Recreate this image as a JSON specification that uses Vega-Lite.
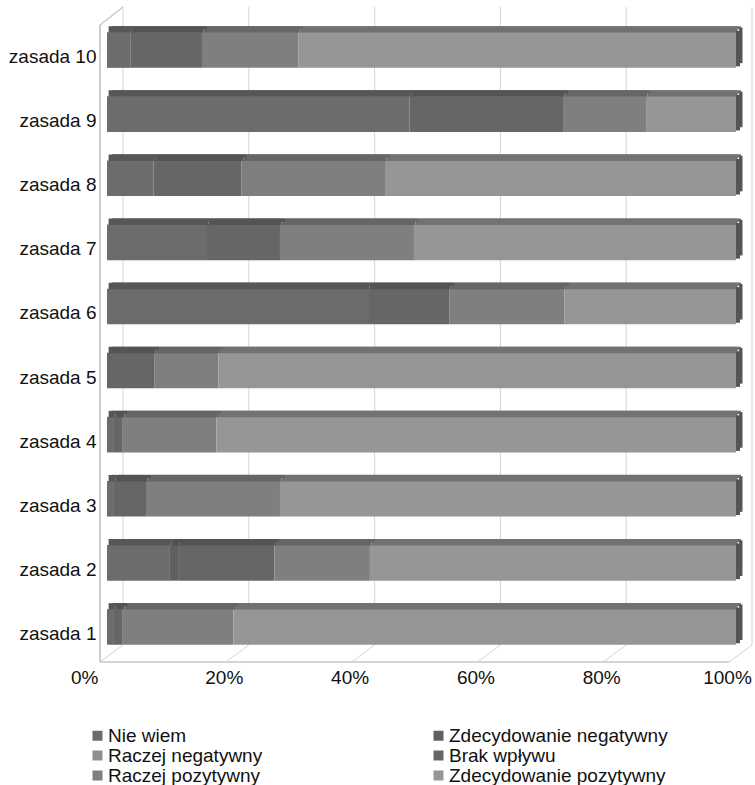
{
  "$schema": "https://vega.github.io/schema/vega-lite/v6.json",
  "autosize": {"type": "none"},
  "width": 629,
  "height": 641,
  "padding": {"left": 107, "top": 18, "right": 19, "bottom": 126},
  "background": "white",
  "config": {
    "font": "Liberation Sans",
    "view": {"stroke": null},
    "axis": {"labelFont": "Liberation Sans", "labelFontSize": 19, "labelColor": "#111111"},
    "legend": {"labelFont": "Liberation Sans", "labelFontSize": 19, "labelColor": "#111111"}
  },
  "datasets": {
    "odpowiedzi": [
      {"zasada": "zasada 1", "k": "Nie wiem", "v": 1.1},
      {"zasada": "zasada 1", "k": "Brak wpływu", "v": 1.4},
      {"zasada": "zasada 1", "k": "Raczej pozytywny", "v": 17.6},
      {"zasada": "zasada 1", "k": "Zdecydowanie pozytywny", "v": 79.9},
      {"zasada": "zasada 2", "k": "Nie wiem", "v": 10.0},
      {"zasada": "zasada 2", "k": "Zdecydowanie negatywny", "v": 1.3},
      {"zasada": "zasada 2", "k": "Brak wpływu", "v": 15.3},
      {"zasada": "zasada 2", "k": "Raczej pozytywny", "v": 15.2},
      {"zasada": "zasada 2", "k": "Zdecydowanie pozytywny", "v": 58.2},
      {"zasada": "zasada 3", "k": "Nie wiem", "v": 1.1},
      {"zasada": "zasada 3", "k": "Brak wpływu", "v": 5.1},
      {"zasada": "zasada 3", "k": "Raczej pozytywny", "v": 21.3},
      {"zasada": "zasada 3", "k": "Zdecydowanie pozytywny", "v": 72.5},
      {"zasada": "zasada 4", "k": "Nie wiem", "v": 1.1},
      {"zasada": "zasada 4", "k": "Brak wpływu", "v": 1.4},
      {"zasada": "zasada 4", "k": "Raczej pozytywny", "v": 14.9},
      {"zasada": "zasada 4", "k": "Zdecydowanie pozytywny", "v": 82.6},
      {"zasada": "zasada 5", "k": "Brak wpływu", "v": 7.5},
      {"zasada": "zasada 5", "k": "Raczej pozytywny", "v": 10.2},
      {"zasada": "zasada 5", "k": "Zdecydowanie pozytywny", "v": 82.3},
      {"zasada": "zasada 6", "k": "Nie wiem", "v": 41.5},
      {"zasada": "zasada 6", "k": "Brak wpływu", "v": 12.9},
      {"zasada": "zasada 6", "k": "Raczej pozytywny", "v": 18.3},
      {"zasada": "zasada 6", "k": "Zdecydowanie pozytywny", "v": 27.3},
      {"zasada": "zasada 7", "k": "Nie wiem", "v": 15.9},
      {"zasada": "zasada 7", "k": "Brak wpływu", "v": 11.6},
      {"zasada": "zasada 7", "k": "Raczej pozytywny", "v": 21.3},
      {"zasada": "zasada 7", "k": "Zdecydowanie pozytywny", "v": 51.2},
      {"zasada": "zasada 8", "k": "Nie wiem", "v": 7.4},
      {"zasada": "zasada 8", "k": "Brak wpływu", "v": 14.0},
      {"zasada": "zasada 8", "k": "Raczej pozytywny", "v": 22.8},
      {"zasada": "zasada 8", "k": "Zdecydowanie pozytywny", "v": 55.8},
      {"zasada": "zasada 9", "k": "Nie wiem", "v": 48.1},
      {"zasada": "zasada 9", "k": "Brak wpływu", "v": 24.4},
      {"zasada": "zasada 9", "k": "Raczej pozytywny", "v": 13.2},
      {"zasada": "zasada 9", "k": "Zdecydowanie pozytywny", "v": 14.3},
      {"zasada": "zasada 10", "k": "Nie wiem", "v": 3.7},
      {"zasada": "zasada 10", "k": "Brak wpływu", "v": 11.4},
      {"zasada": "zasada 10", "k": "Raczej pozytywny", "v": 15.3},
      {"zasada": "zasada 10", "k": "Zdecydowanie pozytywny", "v": 69.6}
    ],
    "podzialka": [{"t": 0}, {"t": 20}, {"t": 40}, {"t": 60}, {"t": 80}, {"t": 100}]
  },
  "layer": [
    {
      "data": {"name": "podzialka"},
      "mark": {"type": "rule", "color": "#d4d4d4", "strokeWidth": 1, "xOffset": 16, "x2Offset": 16, "yOffset": -11, "y2Offset": -14},
      "encoding": {
        "x": {"field": "t", "type": "quantitative", "scale": {"domain": [0, 100]}},
        "y": {"value": 0},
        "y2": {"value": "height"}
      }
    },
    {
      "data": {"name": "podzialka"},
      "mark": {"type": "rule", "color": "#d4d4d4", "strokeWidth": 1, "xOffset": -7, "x2Offset": 16, "yOffset": 3, "y2Offset": -14},
      "encoding": {
        "x": {"field": "t", "type": "quantitative"},
        "x2": {"field": "t"},
        "y": {"value": "height"},
        "y2": {"value": "height"}
      }
    },
    {
      "data": {"name": "podzialka"},
      "mark": {"type": "rule", "color": "#d4d4d4", "strokeWidth": 1, "xOffset": -7, "x2Offset": -7, "yOffset": 3},
      "encoding": {
        "x": {"datum": 0, "type": "quantitative"},
        "x2": {"datum": 100},
        "y": {"value": "height"}
      }
    },
    {
      "data": {"name": "podzialka"},
      "mark": {"type": "rule", "color": "#cccccc", "strokeWidth": 1, "xOffset": -7, "x2Offset": -7, "yOffset": 7, "y2Offset": 3},
      "encoding": {
        "x": {"datum": 0, "type": "quantitative"},
        "y": {"value": 0},
        "y2": {"value": "height"}
      }
    },
    {
      "data": {"name": "podzialka"},
      "mark": {"type": "rule", "color": "#cccccc", "strokeWidth": 1, "xOffset": -7, "x2Offset": 16, "yOffset": 7, "y2Offset": -11},
      "encoding": {
        "x": {"datum": 0, "type": "quantitative"},
        "x2": {"datum": 0},
        "y": {"value": 0},
        "y2": {"value": 0}
      }
    },
    {
      "data": {"name": "odpowiedzi"},
      "transform": [
        {"calculate": "indexof(['Nie wiem','Zdecydowanie negatywny','Raczej negatywny','Brak wpływu','Raczej pozytywny','Zdecydowanie pozytywny'], datum.k)", "as": "kolejnosc"}
      ],
      "layer": [
        {
          "mark": {"type": "bar"},
          "encoding": {
            "y": {
              "field": "zasada", "type": "nominal",
              "sort": ["zasada 10", "zasada 9", "zasada 8", "zasada 7", "zasada 6", "zasada 5", "zasada 4", "zasada 3", "zasada 2", "zasada 1"],
              "scale": {"paddingInner": 0.445, "paddingOuter": 0.2225},
              "axis": {"title": null, "domain": false, "ticks": false, "tickSize": 0, "labelPadding": 11, "labelOffset": 7, "grid": false}
            },
            "x": {
              "field": "v", "type": "quantitative", "stack": "zero",
              "scale": {"domain": [0, 100]},
              "axis": {"title": null, "domain": false, "ticks": false, "tickSize": 0, "grid": false,
                       "values": [0, 20, 40, 60, 80, 100],
                       "labelExpr": "datum.value + '%'",
                       "labelFlush": false,
                       "labelPadding": 9,
                       "labelOffset": -9,
                       "labelAlign": {"condition": {"test": "datum.value == 0", "value": "right"}, "value": "center"}}
            },
            "color": {
              "field": "k", "type": "nominal",
              "scale": {
                "domain": ["Nie wiem", "Zdecydowanie negatywny", "Raczej negatywny", "Brak wpływu", "Raczej pozytywny", "Zdecydowanie pozytywny"],
                "range": ["#6c6c6c", "#606060", "#8e8e8e", "#666666", "#7f7f7f", "#969696"]
              },
              "legend": {
                "title": null, "orient": "none", "legendX": -19, "legendY": 708,
                "direction": "horizontal", "columns": 2, "columnPadding": 166, "rowPadding": -3,
                "symbolType": "square", "symbolSize": 100, "symbolStrokeWidth": 0, "symbolOpacity": 1,
                "labelOffset": 1, "labelLimit": 320, "padding": 0
              }
            },
            "order": {"field": "kolejnosc", "type": "quantitative"}
          }
        },
        {
          "mark": {"type": "bar", "height": 6.5, "yOffset": -20.55, "xOffset": 1.6, "x2Offset": 1.6},
          "encoding": {
            "y": {"field": "zasada", "type": "nominal", "sort": ["zasada 10", "zasada 9", "zasada 8", "zasada 7", "zasada 6", "zasada 5", "zasada 4", "zasada 3", "zasada 2", "zasada 1"]},
            "x": {"field": "v", "type": "quantitative", "stack": "zero"},
            "color": {
              "field": "k", "type": "nominal",
              "scale": {
                "domain": ["Nie wiem", "Zdecydowanie negatywny", "Raczej negatywny", "Brak wpływu", "Raczej pozytywny", "Zdecydowanie pozytywny"],
                "range": ["#575757", "#505050", "#707070", "#545454", "#666666", "#727272"]
              },
              "legend": null
            },
            "order": {"field": "kolejnosc", "type": "quantitative"}
          }
        },
        {
          "mark": {"type": "bar", "height": 3.2, "yOffset": -22.3, "xOffset": 4.9, "x2Offset": 4.9},
          "encoding": {
            "y": {"field": "zasada", "type": "nominal", "sort": ["zasada 10", "zasada 9", "zasada 8", "zasada 7", "zasada 6", "zasada 5", "zasada 4", "zasada 3", "zasada 2", "zasada 1"]},
            "x": {"field": "v", "type": "quantitative", "stack": "zero"},
            "color": {
              "field": "k", "type": "nominal",
              "scale": {
                "domain": ["Nie wiem", "Zdecydowanie negatywny", "Raczej negatywny", "Brak wpływu", "Raczej pozytywny", "Zdecydowanie pozytywny"],
                "range": ["#575757", "#505050", "#707070", "#545454", "#666666", "#727272"]
              },
              "legend": null
            },
            "order": {"field": "kolejnosc", "type": "quantitative"}
          }
        },
        {
          "transform": [{"filter": "datum.k == 'Zdecydowanie pozytywny'"}],
          "mark": {"type": "bar", "color": "#555555", "x2Offset": 4, "yOffset": -1.5},
          "encoding": {
            "y": {"field": "zasada", "type": "nominal", "sort": ["zasada 10", "zasada 9", "zasada 8", "zasada 7", "zasada 6", "zasada 5", "zasada 4", "zasada 3", "zasada 2", "zasada 1"]},
            "x": {"datum": 100, "type": "quantitative"},
            "x2": {"datum": 100}
          }
        },
        {
          "transform": [{"filter": "datum.k == 'Zdecydowanie pozytywny'"}],
          "mark": {"type": "bar", "color": "#555555", "xOffset": 3.2, "x2Offset": 6.5, "yOffset": -4.7},
          "encoding": {
            "y": {"field": "zasada", "type": "nominal", "sort": ["zasada 10", "zasada 9", "zasada 8", "zasada 7", "zasada 6", "zasada 5", "zasada 4", "zasada 3", "zasada 2", "zasada 1"]},
            "x": {"datum": 100, "type": "quantitative"},
            "x2": {"datum": 100}
          }
        }
      ],
      "resolve": {"scale": {"color": "independent"}}
    }
  ]
}
